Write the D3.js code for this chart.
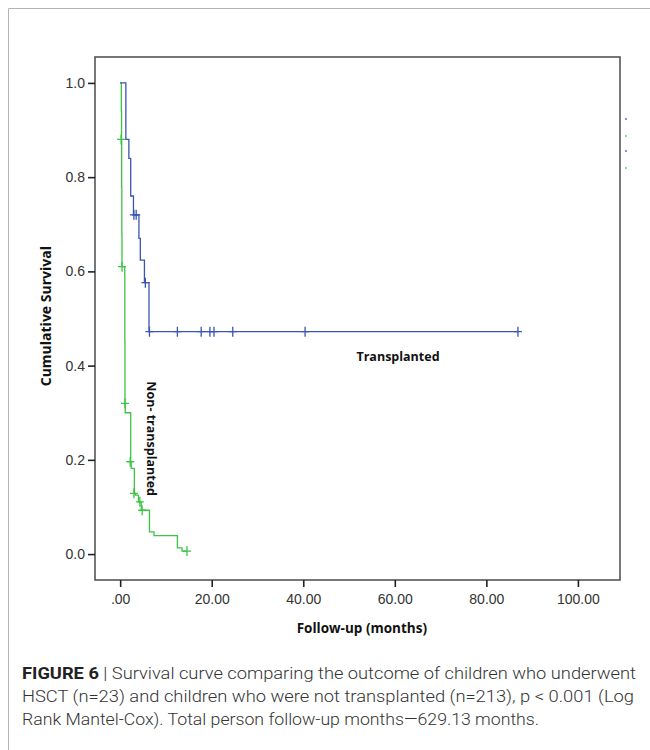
<!DOCTYPE html>
<html>
<head>
<meta charset="utf-8">
<script src="https://cdn.jsdelivr.net/npm/d3@7"></script>
<style>
 body { margin: 0; background: #fff; }
 svg { display: block; }
</style>
</head>
<body>
<svg width="650" height="750"></svg>
<script>
var svg = d3.select("svg"),
 width = +svg.attr("width"),
 height = +svg.attr("height");

// Transplanted (n=23): step curve
var blueTimes = [0, 1.24, 1.9, 2.3, 2.9, 4.1, 4.4, 5.3, 6.3, 86.9];
var blueSurv = [1.0, 0.88, 0.84, 0.76, 0.72, 0.67, 0.624, 0.576, 0.472, 0.472];
var blueCensTimes = [3.0, 3.5, 5.5, 6.4, 12.5, 17.7, 19.6, 20.5, 24.6, 40.4, 86.9];
var blueCensSurv = [0.72, 0.72, 0.576, 0.472, 0.472, 0.472, 0.472, 0.472, 0.472, 0.472, 0.472];

// Non-transplanted (n=213)
var greenTimes = [0, 0.25, 0.3, 0.33, 0.36, 0.4, 1.0, 1.02, 1.05, 1.1, 2.3, 2.4, 3.1, 3.3, 4.0, 4.6, 6.4, 7.4, 12.5, 13.5, 14.6];
var greenSurv = [1.0, 0.94, 0.88, 0.78, 0.68, 0.61, 0.59, 0.45, 0.32, 0.30, 0.196, 0.182, 0.129, 0.125, 0.111, 0.093, 0.047, 0.039, 0.013, 0.0064, 0.0064];
var greenCensTimes = [0.2, 0.4, 1.05, 2.2, 3.0, 4.3, 4.8, 14.6];
var greenCensSurv = [0.88, 0.61, 0.32, 0.196, 0.129, 0.111, 0.093, 0.0064];

var xTicks = [0, 20, 40, 60, 80, 100];
var xTickLabels = [".00", "20.00", "40.00", "60.00", "80.00", "100.00"];
var yTicks = [0, 0.2, 0.4, 0.6, 0.8, 1.0];

var blue = "#3b55b3", green = "#3cc444";

var x = d3.scaleLinear().domain([-5.5, 109.2]).range([95, 620]);
var y = d3.scaleLinear().domain([-0.055, 1.055]).range([580, 57]);

// outer figure frame (page border)
svg.append("path")
 .attr("d", "M8.5,750 V8.5 H650")
 .attr("fill", "none")
 .attr("stroke", "#b5b5b5")
 .attr("stroke-width", 1);

// plot box
svg.append("rect")
 .attr("x", x.range()[0])
 .attr("y", y.range()[1])
 .attr("width", x.range()[1] - x.range()[0])
 .attr("height", y.range()[0] - y.range()[1])
 .attr("fill", "none")
 .attr("stroke", "#555")
 .attr("stroke-width", 1.6);

// axes
var yAxis = svg.append("g")
 .attr("transform", "translate(" + x.range()[0] + ",0)")
 .call(d3.axisLeft(y).tickValues(yTicks).tickSize(7).tickPadding(3).tickFormat(d3.format(".1f")));
var xAxis = svg.append("g")
 .attr("transform", "translate(0," + y.range()[0] + ")")
 .call(d3.axisBottom(x).tickValues(xTicks).tickSize(7).tickPadding(7)
   .tickFormat(function(d, i) { return xTickLabels[i]; }));

[yAxis, xAxis].forEach(function(a) {
 a.select(".domain").remove();
 a.selectAll(".tick line").attr("stroke", "#222").attr("stroke-width", 1.6);
 a.selectAll(".tick text")
  .attr("fill", "#333")
  .style("font-family", "'Liberation Sans', Arial, sans-serif")
  .style("font-size", "14px");
});

// survival curves
var line = d3.line()
 .x(function(d) { return x(d[0]); })
 .y(function(d) { return y(d[1]); })
 .curve(d3.curveStepAfter);

function drawCurve(times, surv, censT, censS, color) {
 svg.append("path")
  .datum(d3.zip(times, surv))
  .attr("d", line)
  .attr("fill", "none")
  .attr("stroke", color)
  .attr("stroke-width", 1.3);

 svg.append("g").selectAll("path")
  .data(d3.zip(censT, censS))
  .enter().append("path")
  .attr("d", function(d) {
    var cx = x(d[0]), cy = y(d[1]);
    return "M" + (cx - 4) + "," + cy + "H" + (cx + 4) +
      "M" + cx + "," + (cy - 5) + "V" + (cy + 5);
  })
  .attr("stroke", color)
  .attr("stroke-width", 1.3)
  .attr("fill", "none");
}

drawCurve(greenTimes, greenSurv, greenCensTimes, greenCensSurv, green);
drawCurve(blueTimes, blueSurv, blueCensTimes, blueCensSurv, blue);

// curve labels
var labelFont = "'Open Sans', Lato, sans-serif";
svg.append("text")
 .attr("x", x(60.7))
 .attr("y", y(0.41))
 .attr("text-anchor", "middle")
 .style("font-family", labelFont)
 .style("font-weight", "bold")
 .style("font-size", "12.5px")
 .attr("fill", "#111")
 .text("Transplanted");

svg.append("text")
 .attr("transform", "translate(" + (x(5.9)) + "," + y(0.245) + ") rotate(90)")
 .attr("text-anchor", "middle")
 .style("font-family", labelFont)
 .style("font-weight", "bold")
 .style("font-size", "12.5px")
 .attr("fill", "#111")
 .text("Non- transplanted");

// axis titles
svg.append("text")
 .attr("transform", "translate(51," + y(0.505) + ") rotate(-90)")
 .attr("text-anchor", "middle")
 .style("font-family", labelFont)
 .style("font-weight", "bold")
 .style("font-size", "14px")
 .attr("fill", "#111")
 .text("Cumulative Survival");

svg.append("text")
 .attr("x", x(52.8))
 .attr("y", 633)
 .attr("text-anchor", "middle")
 .style("font-family", labelFont)
 .style("font-weight", "bold")
 .style("font-size", "13.5px")
 .attr("fill", "#111")
 .text("Follow-up (months)");

// remnants of a cut-off legend at the right edge
var legendY = [119, 136, 151, 168];
var legendC = [blue, green, blue, green];
svg.append("g").selectAll("rect")
 .data(legendY)
 .enter().append("rect")
 .attr("x", 625)
 .attr("y", function(d) { return d - 1; })
 .attr("width", 2)
 .attr("height", 2)
 .attr("fill", function(d, i) { return legendC[i]; })
 .attr("opacity", 0.6);

// caption
var captionLines = [
 ["FIGURE 6", " | Survival curve comparing the outcome of children who underwent"],
 ["", "HSCT (n=23) and children who were not transplanted (n=213), p < 0.001 (Log"],
 ["", "Rank Mantel-Cox). Total person follow-up months\u2014629.13 months."]
];
var captionW = [614, 612, 517];
var cap = svg.append("g")
 .style("font-family", "Roboto, 'Liberation Sans', sans-serif")
 .style("font-weight", "300")
 .style("font-size", "16px")
 .attr("fill", "#333");

captionLines.forEach(function(l, i) {
 var t = cap.append("text")
  .attr("x", 22)
  .attr("y", 679 + i * 23)
  .attr("textLength", captionW[i])
  .attr("lengthAdjust", "spacingAndGlyphs");
 if (l[0]) t.append("tspan").style("font-weight", "bold").attr("fill", "#222").text(l[0]);
 t.append("tspan").text(l[1]);
});
</script>
</body>
</html>
